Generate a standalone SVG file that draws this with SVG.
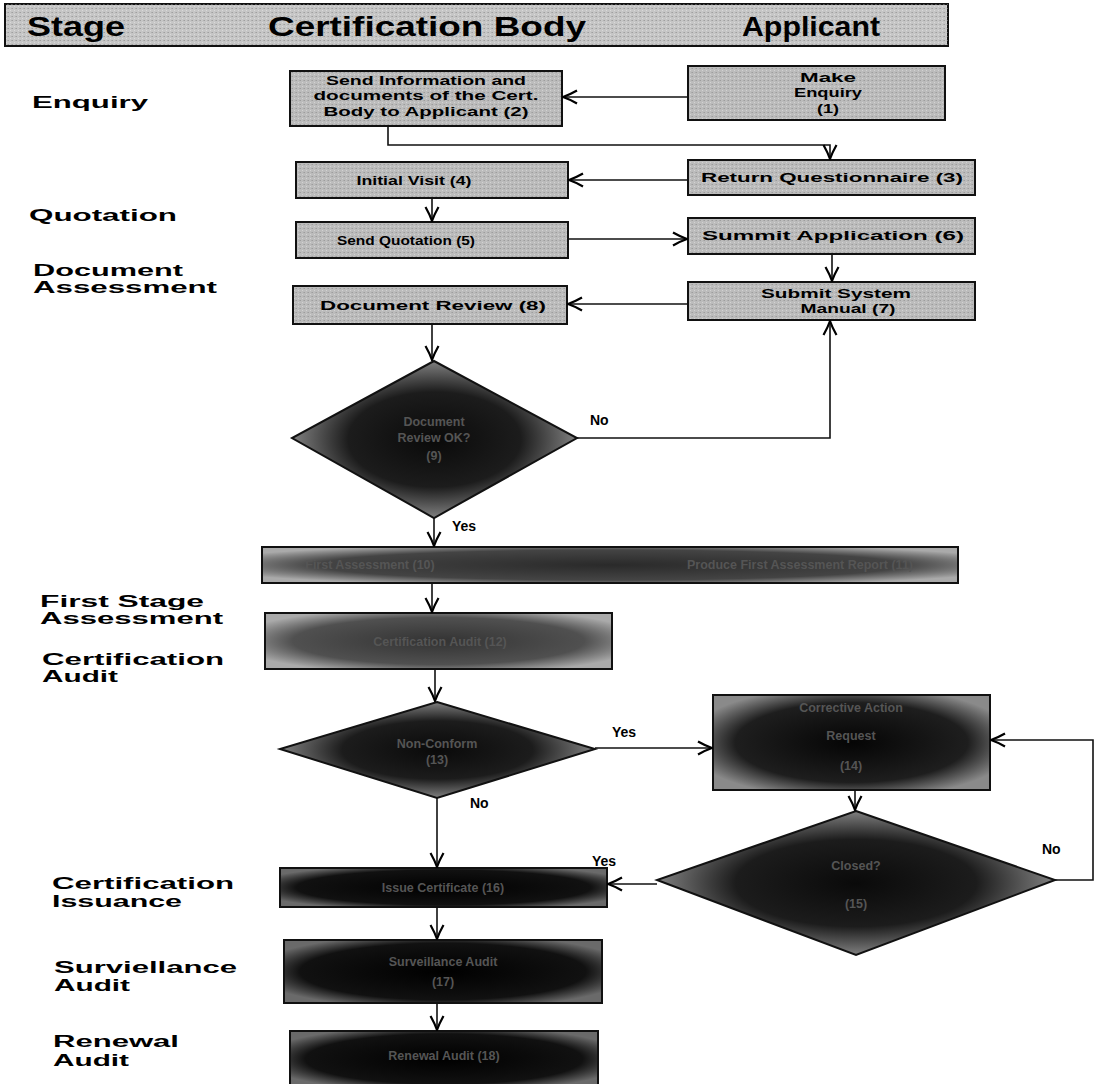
<svg xmlns="http://www.w3.org/2000/svg" width="1101" height="1084" viewBox="0 0 1101 1084">
<style>
.lbl{font-family:"Liberation Sans",Arial,sans-serif;font-weight:bold;font-size:16px;fill:#000}
.hdr{font-family:"Liberation Sans",Arial,sans-serif;font-weight:bold;font-size:27px;fill:#000}
.bt{font-family:"Liberation Sans",Arial,sans-serif;font-weight:bold;font-size:13px;fill:#000;text-anchor:middle}
.dt{font-family:"Liberation Sans",Arial,sans-serif;font-weight:bold;font-size:12.5px;fill:#555;text-anchor:middle}
.yn{font-family:"Liberation Sans",Arial,sans-serif;font-weight:bold;font-size:14px;fill:#000}
.light{fill:#bcbcbc;stroke:#111;stroke-width:2}
.tex{fill:url(#dots);stroke:none}
.conn path{fill:none;stroke:#111;stroke-width:1.6;marker-end:url(#arr)}
</style>
<defs>
<marker id="arr" viewBox="0 0 16 16" refX="15" refY="8" markerWidth="16" markerHeight="16" orient="auto" markerUnits="userSpaceOnUse">
<path d="M1,1.5 Q9,6 15,8 Q9,10 1,14.5" fill="none" stroke="#000" stroke-width="2.2"/>
</marker>
<pattern id="dots" width="4" height="4" patternUnits="userSpaceOnUse">
<rect x="0" y="0" width="1" height="1" fill="#777"/>
<rect x="2" y="2" width="1" height="1" fill="#eee"/>
<rect x="3" y="0" width="1" height="1" fill="#999"/>
</pattern>
<radialGradient id="gDia" cx="50%" cy="50%" r="55%">
<stop offset="0" stop-color="#0a0a0a"/><stop offset="0.55" stop-color="#1c1c1c"/><stop offset="1" stop-color="#9a9a9a"/>
</radialGradient>
<radialGradient id="gBox10" cx="50%" cy="50%" r="60%">
<stop offset="0" stop-color="#2a2a2a"/><stop offset="0.7" stop-color="#444"/><stop offset="1" stop-color="#aaa"/>
</radialGradient>
<radialGradient id="gBox12" cx="50%" cy="50%" r="60%">
<stop offset="0" stop-color="#333"/><stop offset="0.7" stop-color="#505050"/><stop offset="1" stop-color="#aaa"/>
</radialGradient>
<radialGradient id="gBox14" cx="50%" cy="50%" r="60%">
<stop offset="0" stop-color="#050505"/><stop offset="0.7" stop-color="#1e1e1e"/><stop offset="1" stop-color="#8a8a8a"/>
</radialGradient>
<radialGradient id="gBot" cx="50%" cy="50%" r="60%">
<stop offset="0" stop-color="#000"/><stop offset="0.75" stop-color="#111"/><stop offset="1" stop-color="#6a6a6a"/>
</radialGradient>
</defs>
<rect width="1101" height="1084" fill="#fff"/>

<g id="header">
<rect x="5" y="4" width="943" height="42" fill="#c6c6c6" stroke="#111" stroke-width="2"/>
<rect x="5" y="4" width="943" height="42" class="tex" opacity="0.5"/>
<text class="hdr" x="27" y="36" textLength="98" lengthAdjust="spacingAndGlyphs">Stage</text>
<text class="hdr" x="268" y="36" textLength="318" lengthAdjust="spacingAndGlyphs">Certification Body</text>
<text class="hdr" x="742" y="36" textLength="138" lengthAdjust="spacingAndGlyphs">Applicant</text>
</g>

<g id="stages">
<text class="lbl" x="32" y="108" textLength="116" lengthAdjust="spacingAndGlyphs">Enquiry</text>
<text class="lbl" x="29" y="221" textLength="148" lengthAdjust="spacingAndGlyphs">Quotation</text>
<text class="lbl" x="33" y="276" textLength="150" lengthAdjust="spacingAndGlyphs">Document</text>
<text class="lbl" x="33" y="293" textLength="184" lengthAdjust="spacingAndGlyphs">Assessment</text>
<text class="lbl" x="40" y="607" textLength="164" lengthAdjust="spacingAndGlyphs">First Stage</text>
<text class="lbl" x="40" y="624" textLength="183" lengthAdjust="spacingAndGlyphs">Assessment</text>
<text class="lbl" x="42" y="665" textLength="182" lengthAdjust="spacingAndGlyphs">Certification</text>
<text class="lbl" x="42" y="682" textLength="76" lengthAdjust="spacingAndGlyphs">Audit</text>
<text class="lbl" x="52" y="889" textLength="182" lengthAdjust="spacingAndGlyphs">Certification</text>
<text class="lbl" x="52" y="907" textLength="130" lengthAdjust="spacingAndGlyphs">Issuance</text>
<text class="lbl" x="54" y="973" textLength="183" lengthAdjust="spacingAndGlyphs">Surviellance</text>
<text class="lbl" x="54" y="991" textLength="76" lengthAdjust="spacingAndGlyphs">Audit</text>
<text class="lbl" x="53" y="1047" textLength="126" lengthAdjust="spacingAndGlyphs">Renewal</text>
<text class="lbl" x="53" y="1066" textLength="76" lengthAdjust="spacingAndGlyphs">Audit</text>
</g>

<g id="n1">
<rect class="light" x="688" y="66" width="257" height="54"/>
<rect class="tex" x="689" y="67" width="255" height="52" opacity="0.45"/>
<text class="bt" x="828" y="82" textLength="56" lengthAdjust="spacingAndGlyphs">Make</text>
<text class="bt" x="828" y="97" textLength="68" lengthAdjust="spacingAndGlyphs">Enquiry</text>
<text class="bt" x="828" y="113" textLength="22" lengthAdjust="spacingAndGlyphs">(1)</text>
</g>
<g id="n2">
<rect class="light" x="290" y="71" width="272" height="55"/>
<rect class="tex" x="291" y="72" width="270" height="53" opacity="0.45"/>
<text class="bt" x="426" y="85" textLength="200" lengthAdjust="spacingAndGlyphs">Send Information and</text>
<text class="bt" x="426" y="100" textLength="225" lengthAdjust="spacingAndGlyphs">documents of the Cert.</text>
<text class="bt" x="426" y="116" textLength="205" lengthAdjust="spacingAndGlyphs">Body to  Applicant (2)</text>
</g>
<g id="n3">
<rect class="light" x="688" y="160" width="287" height="35"/>
<rect class="tex" x="689" y="161" width="285" height="33" opacity="0.45"/>
<text class="bt" x="832" y="182" textLength="262" lengthAdjust="spacingAndGlyphs">Return Questionnaire (3)</text>
</g>
<g id="n4">
<rect class="light" x="296" y="162" width="272" height="36"/>
<rect class="tex" x="297" y="163" width="270" height="34" opacity="0.45"/>
<text class="bt" x="414" y="185" textLength="115" lengthAdjust="spacingAndGlyphs">Initial Visit  (4)</text>
</g>
<g id="n5">
<rect class="light" x="296" y="222" width="272" height="36"/>
<rect class="tex" x="297" y="223" width="270" height="34" opacity="0.45"/>
<text class="bt" x="406" y="245" textLength="138" lengthAdjust="spacingAndGlyphs">Send Quotation (5)</text>
</g>
<g id="n6">
<rect class="light" x="688" y="218" width="287" height="36"/>
<rect class="tex" x="689" y="219" width="285" height="34" opacity="0.45"/>
<text class="bt" x="833" y="240" textLength="262" lengthAdjust="spacingAndGlyphs">Summit Application (6)</text>
</g>
<g id="n7">
<rect class="light" x="688" y="282" width="287" height="38"/>
<rect class="tex" x="689" y="283" width="285" height="36" opacity="0.45"/>
<text class="bt" x="836" y="298" textLength="150" lengthAdjust="spacingAndGlyphs">Submit System</text>
<text class="bt" x="848" y="313" textLength="95" lengthAdjust="spacingAndGlyphs">Manual (7)</text>
</g>
<g id="n8">
<rect class="light" x="293" y="286" width="274" height="38"/>
<rect class="tex" x="294" y="287" width="272" height="36" opacity="0.45"/>
<text class="bt" x="433" y="310" textLength="226" lengthAdjust="spacingAndGlyphs">Document Review (8)</text>
</g>
<g id="n9">
<polygon points="434,361 577,438 434,518 292,438" fill="url(#gDia)" stroke="#111" stroke-width="2"/>
<text class="dt" x="434" y="426">Document</text>
<text class="dt" x="434" y="442">Review OK?</text>
<text class="dt" x="434" y="460">(9)</text>
</g>
<g id="n10">
<rect x="262" y="547" width="696" height="36" fill="url(#gBox10)" stroke="#111" stroke-width="2"/>
<text class="dt" x="370" y="569">First Assessment (10)</text>
<text class="dt" x="800" y="569">Produce First Assessment Report (11)</text>
</g>
<g id="n12">
<rect x="265" y="613" width="347" height="56" fill="url(#gBox12)" stroke="#111" stroke-width="2"/>
<text class="dt" x="440" y="646">Certification Audit (12)</text>
</g>
<g id="n13">
<polygon points="437,702 595,749 437,798 280,749" fill="url(#gDia)" stroke="#111" stroke-width="2"/>
<text class="dt" x="437" y="748">Non-Conform</text>
<text class="dt" x="437" y="764">(13)</text>
</g>
<g id="n14">
<rect x="713" y="695" width="277" height="95" fill="url(#gBox14)" stroke="#111" stroke-width="2"/>
<text class="dt" x="851" y="712">Corrective Action</text>
<text class="dt" x="851" y="740">Request</text>
<text class="dt" x="851" y="770">(14)</text>
</g>
<g id="n15">
<polygon points="856,811 1055,880 856,955 657,880" fill="url(#gDia)" stroke="#111" stroke-width="2"/>
<text class="dt" x="856" y="870">Closed?</text>
<text class="dt" x="856" y="908">(15)</text>
</g>
<g id="n16">
<rect x="280" y="868" width="327" height="39" fill="url(#gBot)" stroke="#111" stroke-width="2"/>
<text class="dt" x="443" y="892">Issue Certificate (16)</text>
</g>
<g id="n17">
<rect x="284" y="940" width="318" height="63" fill="url(#gBot)" stroke="#111" stroke-width="2"/>
<text class="dt" x="443" y="966">Surveillance Audit</text>
<text class="dt" x="443" y="986">(17)</text>
</g>
<g id="n18">
<rect x="290" y="1031" width="308" height="56" fill="url(#gBot)" stroke="#111" stroke-width="2"/>
<text class="dt" x="444" y="1060">Renewal Audit (18)</text>
</g>

<g id="connectors" class="conn">
<path d="M688,97 L563,97"/>
<path d="M388,126 L388,145 L830,145 L830,159"/>
<path d="M688,180 L569,180"/>
<path d="M432,198 L432,221"/>
<path d="M568,239 L687,239"/>
<path d="M832,254 L832,281"/>
<path d="M688,304 L568,304"/>
<path d="M432,324 L432,360"/>
<path d="M577,438 L830,438 L830,321"/>
<path d="M434,518 L434,546"/>
<path d="M432,583 L432,612"/>
<path d="M435,669 L435,701"/>
<path d="M595,748 L712,748"/>
<path d="M855,790 L855,810"/>
<path d="M1055,880 L1093,880 L1093,740 L991,740"/>
<path d="M657,884 L608,884"/>
<path d="M437,798 L437,867"/>
<path d="M437,907 L437,939"/>
<path d="M437,1003 L437,1030"/>
</g>

<g id="edge-labels">
<text class="yn" x="590" y="425">No</text>
<text class="yn" x="452" y="531">Yes</text>
<text class="yn" x="612" y="737">Yes</text>
<text class="yn" x="470" y="808">No</text>
<text class="yn" x="1042" y="854">No</text>
<text class="yn" x="592" y="866">Yes</text>
</g>
</svg>
